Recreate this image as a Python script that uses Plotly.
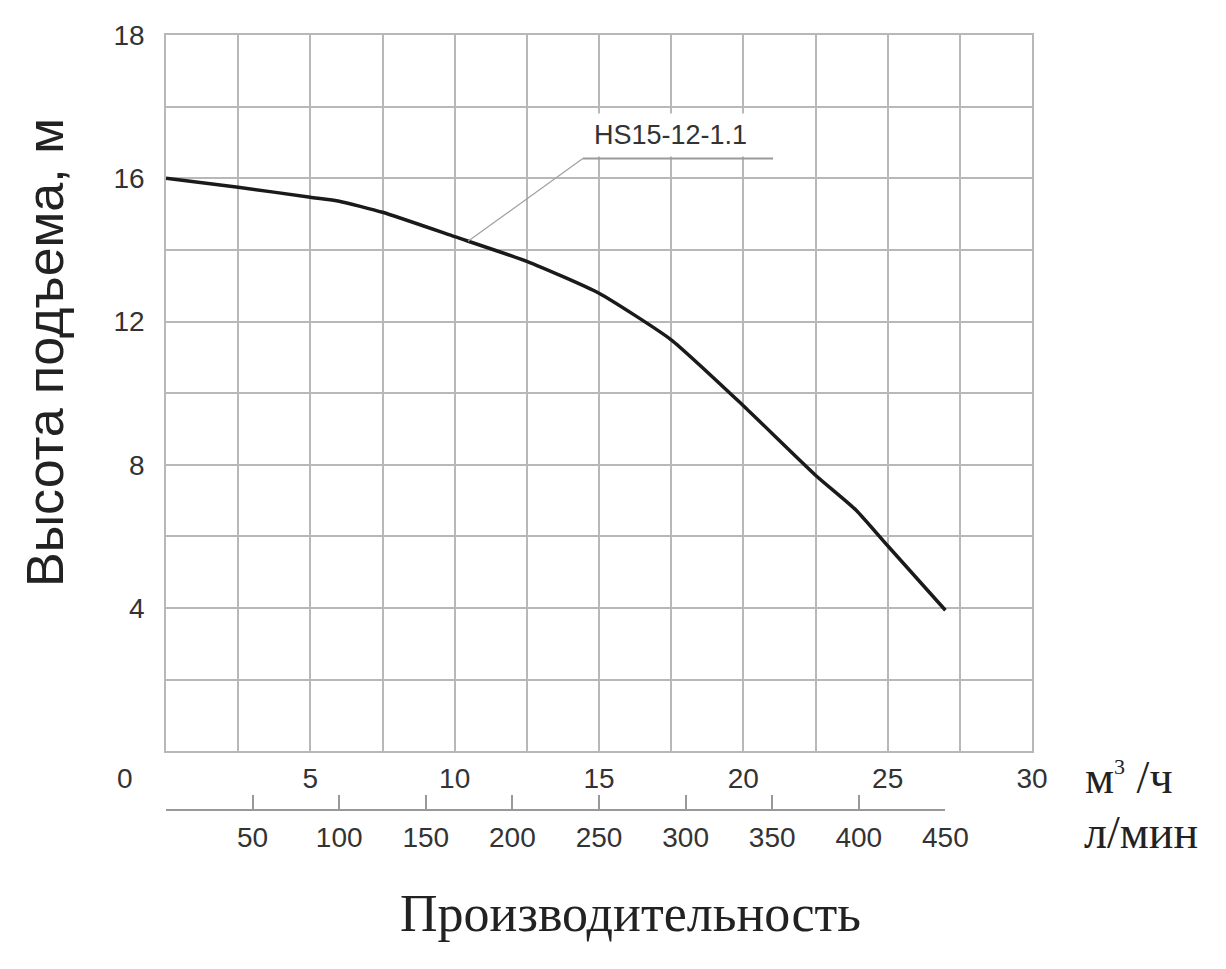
import numpy as np
import plotly.graph_objects as go

# характеристика насоса HS15-12-1.1
q_m3h = [0, 2.5, 5, 6, 7.5, 10, 12.5, 15, 17.5, 20, 22.5, 23.9, 25, 27]
head_m = [16.0, 15.75, 15.47, 15.36, 15.05, 14.37, 13.68, 12.79, 11.49, 9.65, 7.71, 6.74, 5.74, 3.94]

x_grid = [0, 2.5, 5, 7.5, 10, 12.5, 15, 17.5, 20, 22.5, 25, 27.5, 30]
x_text = ['', '', '5', '', '10', '', '15', '', '20', '', '25', '', '30']
# верхняя линия сетки в оригинале подписана «18»
y_grid = [0, 2, 4, 6, 8, 10, 12, 14, 16, 18, 20]
y_text = ['', '', '4', '', '8', '', '12', '', '16', '', '18']
lpm_ticks = [0, 50, 100, 150, 200, 250, 300, 350, 400, 450]
lpm_text = ['', '50', '100', '150', '200', '250', '300', '350', '400', '450']

GRID = '#b8b8b8'
TICKFONT = dict(family='Liberation Sans, Arial, sans-serif', size=28, color='#333333')
SERIF = 'Liberation Serif, Times New Roman, serif'

fig = go.Figure()

fig.add_trace(go.Scatter(
    x=q_m3h, y=head_m,
    mode='lines',
    line=dict(color='#1a1a1a', width=3.5, shape='spline', smoothing=0.5),
    showlegend=False,
    hoverinfo='skip'
))

# пустой след, чтобы нарисовать шкалу л/мин
fig.add_trace(go.Scatter(
    x=lpm_ticks, y=[None] * len(lpm_ticks),
    xaxis='x2', yaxis='y2',
    mode='lines', showlegend=False, hoverinfo='skip'
))

# выноска к кривой
x_lbl = 10.46
y_lbl = float(np.interp(x_lbl, q_m3h, head_m))
fig.add_shape(type='line', x0=x_lbl, y0=y_lbl, x1=14.44, y1=16.55,
              xref='x', yref='y', line=dict(color='#a0a0a0', width=1.2))
fig.add_shape(type='line', x0=14.44, y0=16.55, x1=21.03, y1=16.55,
              xref='x', yref='y', line=dict(color='#9a9a9a', width=2))

fig.add_annotation(
    x=17.46, y=17.2, xref='x', yref='y',
    text='HS15-12-1.1', showarrow=False,
    font=dict(family='Liberation Sans, Arial, sans-serif', size=27, color='#333333'),
    bgcolor='white', borderpad=6
)

fig.add_annotation(
    x=0, y=0, xref='x', yref='y', xshift=-41, yshift=-27,
    text='0', showarrow=False, font=TICKFONT
)

fig.add_annotation(
    x=1.059, y=0.042, xref='paper', yref='paper',
    xanchor='left', yanchor='middle',
    text='м<sup><span style="font-size:22px">3</span></sup> /ч', showarrow=False,
    font=dict(family=SERIF, size=46, color='#222222')
)
fig.add_annotation(
    x=1.0577, y=-0.029, xref='paper', yref='paper',
    xanchor='left', yanchor='middle',
    text='л/мин', showarrow=False,
    font=dict(family=SERIF, size=46, color='#222222')
)
fig.add_annotation(
    x=0.536, y=-0.134, xref='paper', yref='paper',
    xanchor='center', yanchor='middle',
    text='Производительность', showarrow=False,
    font=dict(family=SERIF, size=52, color='#222222')
)
fig.add_annotation(
    x=-0.1397, y=0.5897, xref='paper', yref='paper',
    xanchor='center', yanchor='middle', textangle=-90,
    text='Высота подъема, м', showarrow=False,
    font=dict(family='Liberation Sans Narrow, Arial Narrow, Liberation Sans, sans-serif',
              size=52, color='#222222')
)

fig.update_layout(
    width=1218, height=961,
    margin=dict(l=158, r=194, t=22, b=159),
    plot_bgcolor='white',
    paper_bgcolor='white',
    xaxis=dict(
        range=[0, 30], domain=[0, 1], anchor='y',
        tickvals=x_grid, ticktext=x_text, tickfont=TICKFONT,
        ticks='', ticklabelstandoff=1,
        showgrid=True, gridcolor=GRID, gridwidth=1.5,
        showline=True, linecolor=GRID, linewidth=1.5, mirror=True,
        zeroline=False, fixedrange=True
    ),
    yaxis=dict(
        range=[0, 20], domain=[0.07564, 1], anchor='x',
        tickvals=y_grid, ticktext=y_text, tickfont=TICKFONT,
        ticks='', ticklabelstandoff=14,
        showgrid=True, gridcolor=GRID, gridwidth=1.5,
        showline=True, linecolor=GRID, linewidth=1.5, mirror=True,
        zeroline=False, fixedrange=True
    ),
    xaxis2=dict(
        range=[0, 450], domain=[0, 0.9], anchor='free', position=0,
        tickvals=lpm_ticks, ticktext=lpm_text, tickfont=TICKFONT,
        ticks='inside', ticklen=14, tickwidth=1.5, tickcolor='#999999',
        ticklabelstandoff=3,
        showgrid=False, showline=True, linecolor='#999999', linewidth=1.5,
        zeroline=False, fixedrange=True
    ),
    yaxis2=dict(
        range=[0, 1], domain=[0, 0.05], anchor='x2', visible=False,
        fixedrange=True
    )
)

fig.write_html("out.html")
